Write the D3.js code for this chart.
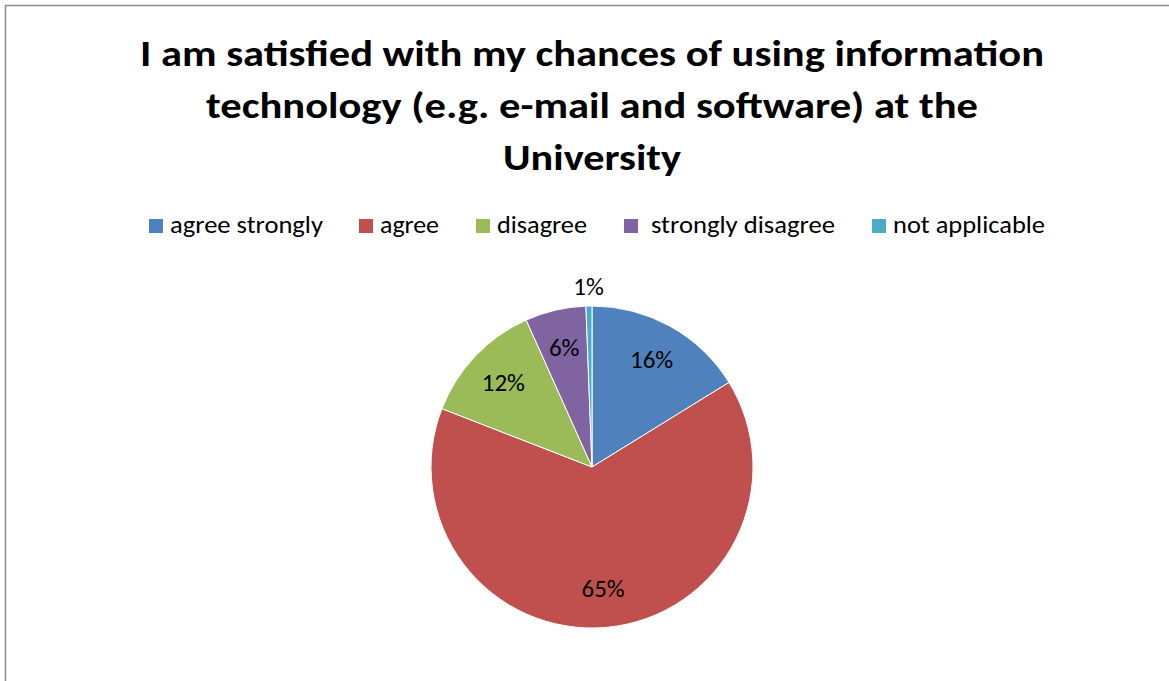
<!DOCTYPE html>
<html>
<head>
<meta charset="utf-8">
<script src="https://cdn.jsdelivr.net/npm/d3@7"></script>
<style>
  html, body { margin: 0; padding: 0; background: #fff; }
  svg { display: block; }
</style>
</head>
<body>
<svg id="chart" width="1169" height="681"></svg>
<script>
// ---- data ----
const categories = ["agree strongly", "agree", "disagree", "strongly disagree", "not applicable"];
const values = [16.2, 64.7, 12.4, 6.1, 0.6];
const labels = ["16%", "65%", "12%", "6%", "1%"];
const colors = ["#4F81BD", "#C0504D", "#9BBB59", "#8064A2", "#4BACC6"];
const titleLines = [
  "I am satisfied with my chances of using information",
  "technology (e.g. e-mail and software) at the",
  "University"
];

// ---- layout ----
const W = 1169, H = 681;
const svg = d3.select("#chart");
const font = "Carlito, Lato, 'Open Sans', sans-serif";

// frame
svg.append("rect")
  .attr("x", 5.5).attr("y", 5.5)
  .attr("width", W + 20).attr("height", H + 20)
  .attr("fill", "#fff")
  .attr("stroke", "#8c8c8c").attr("stroke-width", 1.5);

// title
const titleWidths = [904, 772, 178];
const titleG = svg.append("g");
titleLines.forEach((t, i) => {
  titleG.append("text")
    .attr("x", 592).attr("y", 66 + i * 52)
    .attr("text-anchor", "middle")
    .attr("font-family", font)
    .attr("font-weight", "bold")
    .attr("font-size", 36)
    .attr("textLength", titleWidths[i])
    .attr("lengthAdjust", "spacingAndGlyphs")
    .attr("fill", "#000")
    .text(t);
});

// legend
const legendX = [149, 359, 476, 624, 872];
const legendTextW = [153, 59, 90, 184, 152];
const lg = svg.append("g");
categories.forEach((c, i) => {
  const g = lg.append("g").attr("transform", `translate(${legendX[i]},0)`);
  g.append("rect")
    .attr("x", 0).attr("y", 219)
    .attr("width", 14).attr("height", 14)
    .attr("fill", colors[i]);
  g.append("text")
    .attr("x", (i === 3 ? 27 : 21)).attr("y", 233)
    .attr("font-family", font)
    .attr("font-size", 24)
    .attr("textLength", legendTextW[i])
    .attr("lengthAdjust", "spacingAndGlyphs")
    .attr("fill", "#000")
    .text(c);
});

// pie
const cx = 592, cy = 467, r = 161;
const pie = d3.pie().sort(null).value(d => d)(values);
const arc = d3.arc().innerRadius(0).outerRadius(r);
const labelArc = d3.arc().innerRadius(r * 0.76).outerRadius(r * 0.76);
const outerArc = d3.arc().innerRadius(r + 19).outerRadius(r + 19);

const pg = svg.append("g").attr("transform", `translate(${cx},${cy})`);
pg.selectAll("path.slice")
  .data(pie)
  .enter().append("path")
  .attr("class", "slice")
  .attr("d", arc)
  .attr("fill", (d, i) => colors[i])
  .attr("stroke", "#fff")
  .attr("stroke-width", 1);

pg.selectAll("text.lbl")
  .data(pie)
  .enter().append("text")
  .attr("class", "lbl")
  .attr("transform", (d, i) => {
    const p = (d.endAngle - d.startAngle) < 0.1 ? outerArc.centroid(d) : labelArc.centroid(d);
    return `translate(${p[0]},${p[1] + 8})`;
  })
  .attr("text-anchor", "middle")
  .attr("font-family", font)
  .attr("font-size", 25)
  .attr("fill", "#000")
  .text((d, i) => labels[i]);
</script>
</body>
</html>
